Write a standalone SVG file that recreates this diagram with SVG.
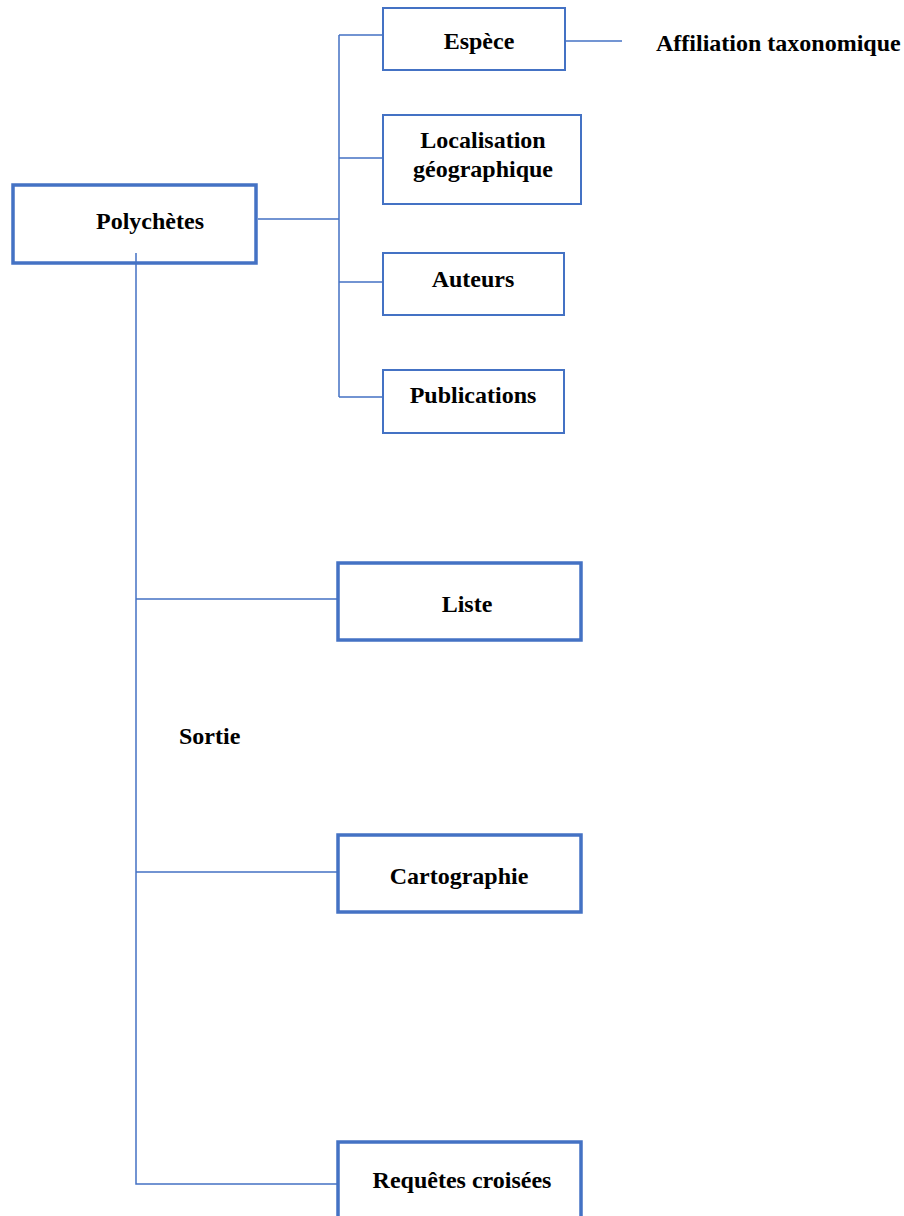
<svg xmlns="http://www.w3.org/2000/svg" width="904" height="1216" viewBox="0 0 904 1216">
<style>
.thin{fill:none;stroke:#4472C4;stroke-width:2}
.thick{fill:none;stroke:#4472C4;stroke-width:3.5}
.c{fill:none;stroke:#4472C4;stroke-width:1.5}
text{font-family:"Liberation Serif","Times New Roman",serif;font-weight:bold;font-size:24px;fill:#000}
.m{text-anchor:middle}
</style>
<rect width="904" height="1216" fill="#fff"/>
<g id="connectors">
<path class="c" d="M258 219H339M339 35V397M339 35H383M339 158H383M339 282H383M339 397H383"/>
<path class="c" d="M566 41H622"/>
<path class="c" d="M136 253V1184H337M136 599H337M136 872H337"/>
</g>
<g id="polychetes"><rect class="thick" x="13" y="185" width="243" height="78"/><text class="m" x="150" y="229">Polychètes</text></g>
<g id="espece"><rect class="thin" x="383" y="8" width="182" height="62"/><text class="m" x="479" y="49">Espèce</text></g>
<g id="affiliation"><text x="656" y="51">Affiliation taxonomique</text></g>
<g id="localisation"><rect class="thin" x="383" y="115" width="198" height="89"/><text class="m" x="483" y="148">Localisation</text><text class="m" x="483" y="177">géographique</text></g>
<g id="auteurs"><rect class="thin" x="383" y="253" width="181" height="62"/><text class="m" x="473" y="287">Auteurs</text></g>
<g id="publications"><rect class="thin" x="383" y="370" width="181" height="63"/><text class="m" x="473" y="403">Publications</text></g>
<g id="liste"><rect class="thick" x="338" y="563" width="243" height="77"/><text class="m" x="467" y="612">Liste</text></g>
<g id="sortie"><text x="179" y="744">Sortie</text></g>
<g id="cartographie"><rect class="thick" x="338" y="835" width="243" height="77"/><text class="m" x="459" y="884">Cartographie</text></g>
<g id="requetes"><rect class="thick" x="338" y="1142" width="243" height="80"/><text class="m" x="462" y="1188">Requêtes croisées</text></g>
</svg>
